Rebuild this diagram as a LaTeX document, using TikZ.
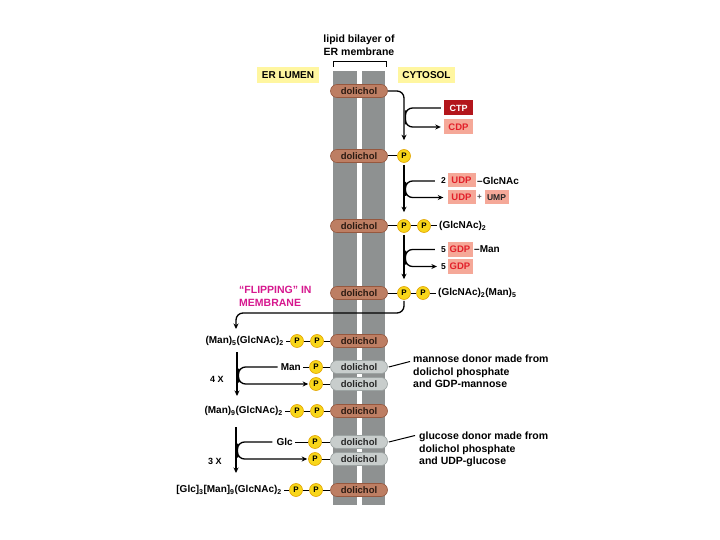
\documentclass[tikz,border=0pt]{standalone}
\usepackage{fontspec}
\setmainfont{Liberation Sans}
\usetikzlibrary{arrows.meta,shapes.misc}
\definecolor{membr}{HTML}{8E9191}
\definecolor{dolF}{HTML}{BD7E63}
\definecolor{dolD}{HTML}{96583F}
\definecolor{dolT}{HTML}{2B1A12}
\definecolor{gdolF}{HTML}{C8CDCC}
\definecolor{gdolD}{HTML}{9CA3A2}
\definecolor{phF}{HTML}{F8D61A}
\definecolor{phD}{HTML}{E2A400}
\definecolor{ctpF}{HTML}{B3161C}
\definecolor{salF}{HTML}{F5A898}
\definecolor{salT}{HTML}{E2202A}
\definecolor{yelF}{HTML}{FFF6A0}
\definecolor{magT}{HTML}{D6188E}
\newcommand{\lsub}[1]{\textsubscript{#1}}
\begin{document}
\begin{tikzpicture}[x=1pt,y=-1pt,
 dol/.style={rounded rectangle, draw=dolD, fill=dolF, line width=0.6pt, minimum width=57pt, minimum height=13pt, inner sep=0pt, text=dolT, font=\fontsize{9.5}{10}\selectfont\bfseries},
 gdol/.style={dol, draw=gdolD, fill=gdolF, text=black!85},
 phos/.style={circle, draw=phD, fill=phF, line width=0.6pt, minimum size=13pt, inner sep=0pt, font=\fontsize{8}{8}\selectfont\bfseries},
 chem/.style={inner sep=0pt, font=\fontsize{10}{12}\selectfont\bfseries},
 darkbox/.style={chem, fill=ctpF, text=white, minimum width=29pt, minimum height=15pt, font=\fontsize{9}{10}\selectfont\bfseries},
 pinkbox/.style={chem, fill=salF, text=salT, minimum width=28pt, minimum height=14pt, font=\fontsize{9.5}{10}\selectfont\bfseries},
 note/.style={align=left, inner sep=0pt, font=\fontsize{10.5}{12.5}\selectfont\bfseries},
 ylab/.style={fill=yelF, inner sep=0pt, minimum height=16pt, font=\fontsize{10}{12}\selectfont\bfseries},
 conn/.style={line width=1.3pt, black},
 arr/.style={conn, -{Stealth[length=5.5pt,width=5pt]}},
 lnk/.style={line width=1pt, black},
]
\useasboundingbox (0,0) rectangle (720,540);
% membrane
\fill[membr] (333,71) rectangle (357,505);
\fill[membr] (362,71) rectangle (385,505);
% top labels
\node[note, align=center, font=\fontsize{10.5}{13}\selectfont\bfseries] (bil) at (359,45) {lipid bilayer of\\ER membrane};
\draw[lnk] (333,67) -- (333,62) -- (386,62) -- (386,67);
\node[ylab, minimum width=62pt] (lum) at (288,75) {ER LUMEN};
\node[ylab, minimum width=57pt] (cyt) at (426.5,75) {CYTOSOL};
% dolichols
\node[dol] (D1) at (359,91) {dolichol};
\node[dol] (D2) at (359,156) {dolichol};
\node[dol] (D3) at (359,226) {dolichol};
\node[dol] (D4) at (359,293) {dolichol};
\node[dol] (L1) at (359,341) {dolichol};
\node[gdol] (G1) at (359,367) {dolichol};
\node[gdol] (G2) at (359,384) {dolichol};
\node[dol] (L2) at (359,411) {dolichol};
\node[gdol] (G3) at (359,442) {dolichol};
\node[gdol] (G4) at (359,459) {dolichol};
\node[dol] (L3) at (359,490) {dolichol};
% phosphates
\node[phos] (P2) at (404,156) {P};
\node[phos] (P3a) at (404,226) {P};
\node[phos] (P3b) at (424,226) {P};
\node[phos] (P4a) at (404,293) {P};
\node[phos] (P4b) at (423,293) {P};
\node[phos] (Q1a) at (297,341) {P};
\node[phos] (Q1b) at (317,341) {P};
\node[phos] (QG1) at (316,367) {P};
\node[phos] (QG2) at (316,384) {P};
\node[phos] (Q2a) at (297,411) {P};
\node[phos] (Q2b) at (317,411) {P};
\node[phos] (QG3) at (315,442) {P};
\node[phos] (QG4) at (315,459) {P};
\node[phos] (Q3a) at (296,490) {P};
\node[phos] (Q3b) at (316,490) {P};
% sugar texts
\node[chem, anchor=west] (T3) at (439,226) {(GlcNAc)\lsub{2}};
\node[chem, anchor=west] (T4) at (438,293) {(GlcNAc)\lsub{2}(Man)\lsub{5}};
\node[chem, anchor=east] (S1) at (284,341) {(Man)\lsub{5}(GlcNAc)\lsub{2}};
\node[chem, anchor=east] (Sman) at (301,367) {Man};
\node[chem, anchor=east] (S2) at (283,411) {(Man)\lsub{9}(GlcNAc)\lsub{2}};
\node[chem, anchor=east] (Sglc) at (293,442) {Glc};
\node[chem, anchor=east] (S3) at (282,490) {[Glc]\lsub{3}[Man]\lsub{9}(GlcNAc)\lsub{2}};
% bonds
\draw[lnk] (D2.east) -- (P2.west);
\draw[lnk] (D3.east) -- (P3a.west);
\draw[lnk] (P3a.east) -- (P3b.west);
\draw[lnk] (P3b.east) -- ([xshift=-2pt]T3.west);
\draw[lnk] (D4.east) -- (P4a.west);
\draw[lnk] (P4a.east) -- (P4b.west);
\draw[lnk] (P4b.east) -- ([xshift=-2pt]T4.west);
\draw[lnk] ([xshift=2pt]S1.east) -- (Q1a.west);
\draw[lnk] (Q1a.east) -- (Q1b.west);
\draw[lnk] (Q1b.east) -- (L1.west);
\draw[lnk] ([xshift=2pt]Sman.east) -- (QG1.west);
\draw[lnk] (QG1.east) -- (G1.west);
\draw[lnk] (QG2.east) -- (G2.west);
\draw[lnk] ([xshift=2pt]S2.east) -- (Q2a.west);
\draw[lnk] (Q2a.east) -- (Q2b.west);
\draw[lnk] (Q2b.east) -- (L2.west);
\draw[lnk] ([xshift=2pt]Sglc.east) -- (QG3.west);
\draw[lnk] (QG3.east) -- (G3.west);
\draw[lnk] (QG4.east) -- (G4.west);
\draw[lnk] ([xshift=2pt]S3.east) -- (Q3a.west);
\draw[lnk] (Q3a.east) -- (Q3b.west);
\draw[lnk] (Q3b.east) -- (L3.west);
% nucleotide boxes
\node[darkbox] (CTP) at (458.5,108) {CTP};
\node[pinkbox, minimum width=29pt, minimum height=15pt] (CDP) at (458.5,127) {CDP};
\node[pinkbox] (U1) at (461.5,180.5) {UDP};
\node[chem, anchor=east, font=\fontsize{8.5}{10}\selectfont\bfseries] (n2) at (446,181) {2};
\node[chem, anchor=west] (glcnac) at (477,180.5) {–GlcNAc};
\node[pinkbox] (U2) at (461.5,197.5) {UDP};
\node[chem, font=\fontsize{8}{10}\selectfont\bfseries, text=black!70] (plus) at (479.5,197.5) {+};
\node[pinkbox, minimum width=24pt, text=black!85, font=\fontsize{8.5}{10}\selectfont\bfseries] (UMP) at (496.5,197.5) {UMP};
\node[pinkbox, minimum width=25pt, minimum height=15pt] (GD1) at (460,249) {GDP};
\node[chem, anchor=east, font=\fontsize{8.5}{10}\selectfont\bfseries] (n5a) at (446,249.5) {5};
\node[chem, anchor=west] (man) at (474,249) {–Man};
\node[pinkbox, minimum width=25pt, minimum height=15pt] (GD2) at (460,266) {GDP};
\node[chem, anchor=east, font=\fontsize{8.5}{10}\selectfont\bfseries] (n5b) at (446,266.5) {5};
% reaction arrows (cytosol)
\draw[arr, rounded corners=7pt] (D1.east) -| ([yshift=9pt]P2.north);
\draw[arr, rounded corners=7pt] ([xshift=-3pt]CTP.west) -| (405.5,117.5) |- ([xshift=-3pt]CDP.west);
\draw[arr] ([yshift=-2pt]P2.south) -- ([yshift=7pt]P3a.north);
\draw[arr, rounded corners=7pt] ([xshift=-6pt]n2.west) -| (405.5,189) |- ([xshift=-4pt]U2.west);
\draw[arr] ([yshift=-2pt]P3a.south) -- ([yshift=7pt]P4a.north);
\draw[arr, rounded corners=7pt] ([xshift=-6pt]n5a.west) -| (405.5,257.5) |- ([xshift=-4pt]n5b.west);
% flipping
\coordinate (flipend) at (236,329);
\draw[arr, rounded corners=7pt] ([yshift=-1pt]P4a.south) |- (236,313) -- (flipend);
\node[note, text=magT, anchor=north west] (flip) at (239,286) {“FLIPPING” IN\\MEMBRANE};
% lumen arrows
\coordinate (a4s) at (237,352);
\coordinate (a4e) at (237,396);
\draw[arr] (a4s) -- (a4e);
\draw[arr, rounded corners=7pt] ([xshift=-3pt]Sman.west) -| (238.5,375.5) |- ([xshift=-1pt]QG2.west);
\node[chem, font=\fontsize{9}{10}\selectfont\bfseries] (x4) at (217,379) {4 X};
\coordinate (a3s) at (236,427);
\coordinate (a3e) at (236,473);
\draw[arr] (a3s) -- (a3e);
\draw[arr, rounded corners=7pt] ([xshift=-4pt]Sglc.west) -| (237.5,450.5) |- ([xshift=-1pt]QG4.west);
\node[chem, font=\fontsize{9}{10}\selectfont\bfseries] (x3) at (215,461) {3 X};
% notes
\node[note, anchor=west] (mnote) at (413,371.5) {mannose donor made from\\dolichol phosphate\\and GDP-mannose};
\draw[lnk] ([xshift=1pt]G1.east) -- ([xshift=-3pt,yshift=10pt]mnote.west);
\node[note, anchor=west] (gnote) at (419,449.5) {glucose donor made from\\dolichol phosphate\\and UDP-glucose};
\draw[lnk] ([xshift=1pt]G3.east) -- ([xshift=-4pt,yshift=14pt]gnote.west);
\end{tikzpicture}
\end{document}
